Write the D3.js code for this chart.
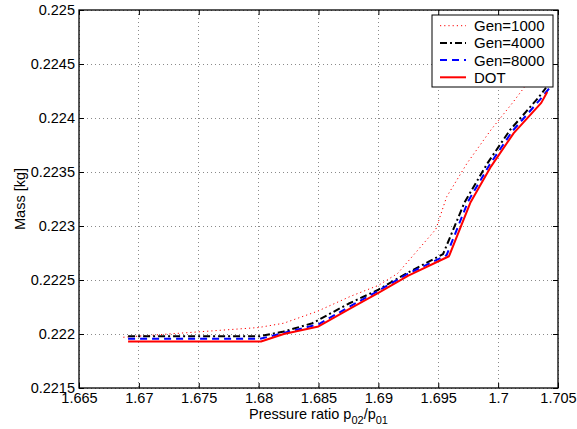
<!DOCTYPE html>
<html>
<head>
<meta charset="utf-8">
<script src="https://cdn.jsdelivr.net/npm/d3@7"></script>
<style>
	body { margin: 0; background: #fff; }
	text { font-family: "Liberation Sans", Arial, Helvetica, sans-serif; }
</style>
</head>
<body>
<svg id="chart" width="577" height="429"></svg>
<script>
// tick values and their labels, as printed on the axes
const xTicks = [1.665, 1.67, 1.675, 1.68, 1.685, 1.69, 1.695, 1.7, 1.705]
const xTickLabels = ["1.665", "1.67", "1.675", "1.68", "1.685", "1.69", "1.695", "1.7", "1.705"]
const yTicks = [0.2215, 0.222, 0.2225, 0.223, 0.2235, 0.224, 0.2245, 0.225]
const yTickLabels = ["0.2215", "0.222", "0.2225", "0.223", "0.2235", "0.224", "0.2245", "0.225"]

// pressure ratio (x) and mass (y) of every series
const gen1000X = [1.6687, 1.675, 1.68, 1.6821, 1.6849, 1.6877, 1.69, 1.6916, 1.6948, 1.6957, 1.6974, 1.6994, 1.7012, 1.704]
const gen1000Y = [0.22197, 0.22202, 0.22206, 0.2221, 0.22221, 0.22235, 0.22245, 0.22256, 0.22297, 0.22327, 0.22358, 0.22389, 0.22414, 0.22455]

const gen4000X = [1.6691, 1.6801, 1.682, 1.6845, 1.6875, 1.69, 1.6925, 1.6954, 1.6972, 1.6991, 1.701, 1.7033, 1.704]
const gen4000Y = [0.22198, 0.22198, 0.22202, 0.2221, 0.22228, 0.22241, 0.22257, 0.22274, 0.22322, 0.22358, 0.22389, 0.22418, 0.22428]

const gen8000X = [1.6691, 1.6801, 1.6821, 1.685, 1.6877, 1.69, 1.6925, 1.6957, 1.6975, 1.6993, 1.7012, 1.7035, 1.7043]
const gen8000Y = [0.221955, 0.221955, 0.22201, 0.22209, 0.22226, 0.2224, 0.22256, 0.22273, 0.22323, 0.22357, 0.22388, 0.22417, 0.22428]

const dotX = [1.6691, 1.6802, 1.6821, 1.685, 1.6877, 1.69, 1.6925, 1.6959, 1.6977, 1.6994, 1.7013, 1.7036, 1.7041]
const dotY = [0.22193, 0.22193, 0.222, 0.22207, 0.22224, 0.22238, 0.22254, 0.22272, 0.22322, 0.22355, 0.22386, 0.22414, 0.22424]

const seriesNames = ["Gen=1000", "Gen=4000", "Gen=8000", "DOT"]

const series = [
	{ name: seriesNames[0], xs: gen1000X, ys: gen1000Y, colour: "#ff0000", width: 1, dash: "1.2,3" },
	{ name: seriesNames[1], xs: gen4000X, ys: gen4000Y, colour: "#000000", width: 2, dash: "7,3,2,3" },
	{ name: seriesNames[2], xs: gen8000X, ys: gen8000Y, colour: "#0000ff", width: 2, dash: "7,5" },
	{ name: seriesNames[3], xs: dotX, ys: dotY, colour: "#ff0000", width: 2, dash: null }
]

const plot = { left: 79, right: 558, top: 10, bottom: 388 }
const fontSize = 14.5

const svg = d3.select("#chart")

const x = d3.scaleLinear().domain([1.665, 1.705]).range([plot.left, plot.right])
const y = d3.scaleLinear().domain([0.2215, 0.225]).range([plot.bottom, plot.top])

/**
 * Dotted grid, drawn at every tick like matlab's "grid on"
 */
const grid = svg.append("g").attr("class", "grid")

grid.selectAll(".vgrid")
	.data(xTicks)
	.enter()
	.append("line")
	.attr("x1", d => x(d))
	.attr("x2", d => x(d))
	.attr("y1", plot.top)
	.attr("y2", plot.bottom)

grid.selectAll(".hgrid")
	.data(yTicks)
	.enter()
	.append("line")
	.attr("x1", plot.left)
	.attr("x2", plot.right)
	.attr("y1", d => y(d))
	.attr("y2", d => y(d))

grid.selectAll("line")
	.attr("stroke", "#8a8a8a")
	.attr("stroke-width", 1)
	.attr("stroke-dasharray", "1,3")
	.attr("shape-rendering", "crispEdges")

/**
 * The series lines, clipped to the axes box
 */
svg.append("clipPath")
	.attr("id", "plot-clip")
	.append("rect")
	.attr("x", plot.left)
	.attr("y", plot.top)
	.attr("width", plot.right - plot.left)
	.attr("height", plot.bottom - plot.top)

const line = d3.line()
	.x(d => x(d[0]))
	.y(d => y(d[1]))

svg.append("g")
	.attr("clip-path", "url(#plot-clip)")
	.selectAll(".series")
	.data(series)
	.enter()
	.append("path")
	.attr("class", "series")
	.attr("d", s => line(d3.zip(s.xs, s.ys)))
	.attr("fill", "none")
	.attr("stroke", s => s.colour)
	.attr("stroke-width", s => s.width)
	.attr("stroke-dasharray", s => s.dash)
	.attr("stroke-linejoin", "round")

/**
 * Axes: ticks point inwards and are mirrored on top and right
 */
const xAxis = d3.axisBottom(x)
	.tickValues(xTicks)
	.tickFormat((d, i) => xTickLabels[i])
	.tickSize(-5)
	.tickSizeOuter(0)
	.tickPadding(5)

const yAxis = d3.axisLeft(y)
	.tickValues(yTicks)
	.tickFormat((d, i) => yTickLabels[i])
	.tickSize(-5)
	.tickSizeOuter(0)
	.tickPadding(4)

const axisStyle = g => {
	g.select(".domain").remove()
	g.selectAll("line").attr("stroke", "#000")
	g.selectAll("text")
		.attr("fill", "#000")
		.style("font-size", `${fontSize}px`)
		.style("font-family", '"Liberation Sans", Arial, sans-serif')
}

svg.append("g")
	.attr("transform", `translate(0,${plot.bottom})`)
	.call(xAxis)
	.call(axisStyle)

svg.append("g")
	.attr("transform", `translate(${plot.left},0)`)
	.call(yAxis)
	.call(axisStyle)

svg.append("g")
	.attr("transform", `translate(0,${plot.top})`)
	.call(d3.axisTop(x).tickValues(xTicks).tickFormat("").tickSize(-5).tickSizeOuter(0))
	.call(axisStyle)

svg.append("g")
	.attr("transform", `translate(${plot.right},0)`)
	.call(d3.axisRight(y).tickValues(yTicks).tickFormat("").tickSize(-5).tickSizeOuter(0))
	.call(axisStyle)

// axes box
svg.append("rect")
	.attr("x", plot.left)
	.attr("y", plot.top)
	.attr("width", plot.right - plot.left)
	.attr("height", plot.bottom - plot.top)
	.attr("fill", "none")
	.attr("stroke", "#000")
	.attr("stroke-width", 1.3)

/**
 * Axis titles
 */
const xLabel = svg.append("text")
	.attr("x", (plot.left + plot.right) / 2)
	.attr("y", 419)
	.attr("text-anchor", "middle")
	.style("font-size", `${fontSize}px`)

xLabel.append("tspan").text("Pressure ratio p")
xLabel.append("tspan").attr("dy", 5).style("font-size", "11px").text("02")
xLabel.append("tspan").attr("dy", -5).text("/p")
xLabel.append("tspan").attr("dy", 5).style("font-size", "11px").text("01")

svg.append("text")
	.attr("transform", `translate(25,${(plot.top + plot.bottom) / 2}) rotate(-90)`)
	.attr("text-anchor", "middle")
	.style("font-size", `${fontSize}px`)
	.text("Mass [kg]")

/**
 * Legend box in the upper right, on top of the lines
 */
const legend = svg.append("g").attr("class", "legend")

legend.append("rect")
	.attr("x", 432)
	.attr("y", 15)
	.attr("width", 121)
	.attr("height", 72)
	.attr("fill", "#fff")
	.attr("stroke", "#000")
	.attr("stroke-width", 1)

const entry = legend.selectAll(".entry")
	.data(series)
	.enter()
	.append("g")
	.attr("class", "entry")
	.attr("transform", (d, i) => `translate(0,${25.7 + i * 17.2})`)

entry.append("line")
	.attr("x1", 440)
	.attr("x2", 466)
	.attr("stroke", s => s.colour)
	.attr("stroke-width", s => s.width)
	.attr("stroke-dasharray", s => s.dash)

entry.append("text")
	.attr("x", 474)
	.attr("dy", "0.36em")
	.style("font-size", "15px")
	.text(s => s.name)
</script>
</body>
</html>
